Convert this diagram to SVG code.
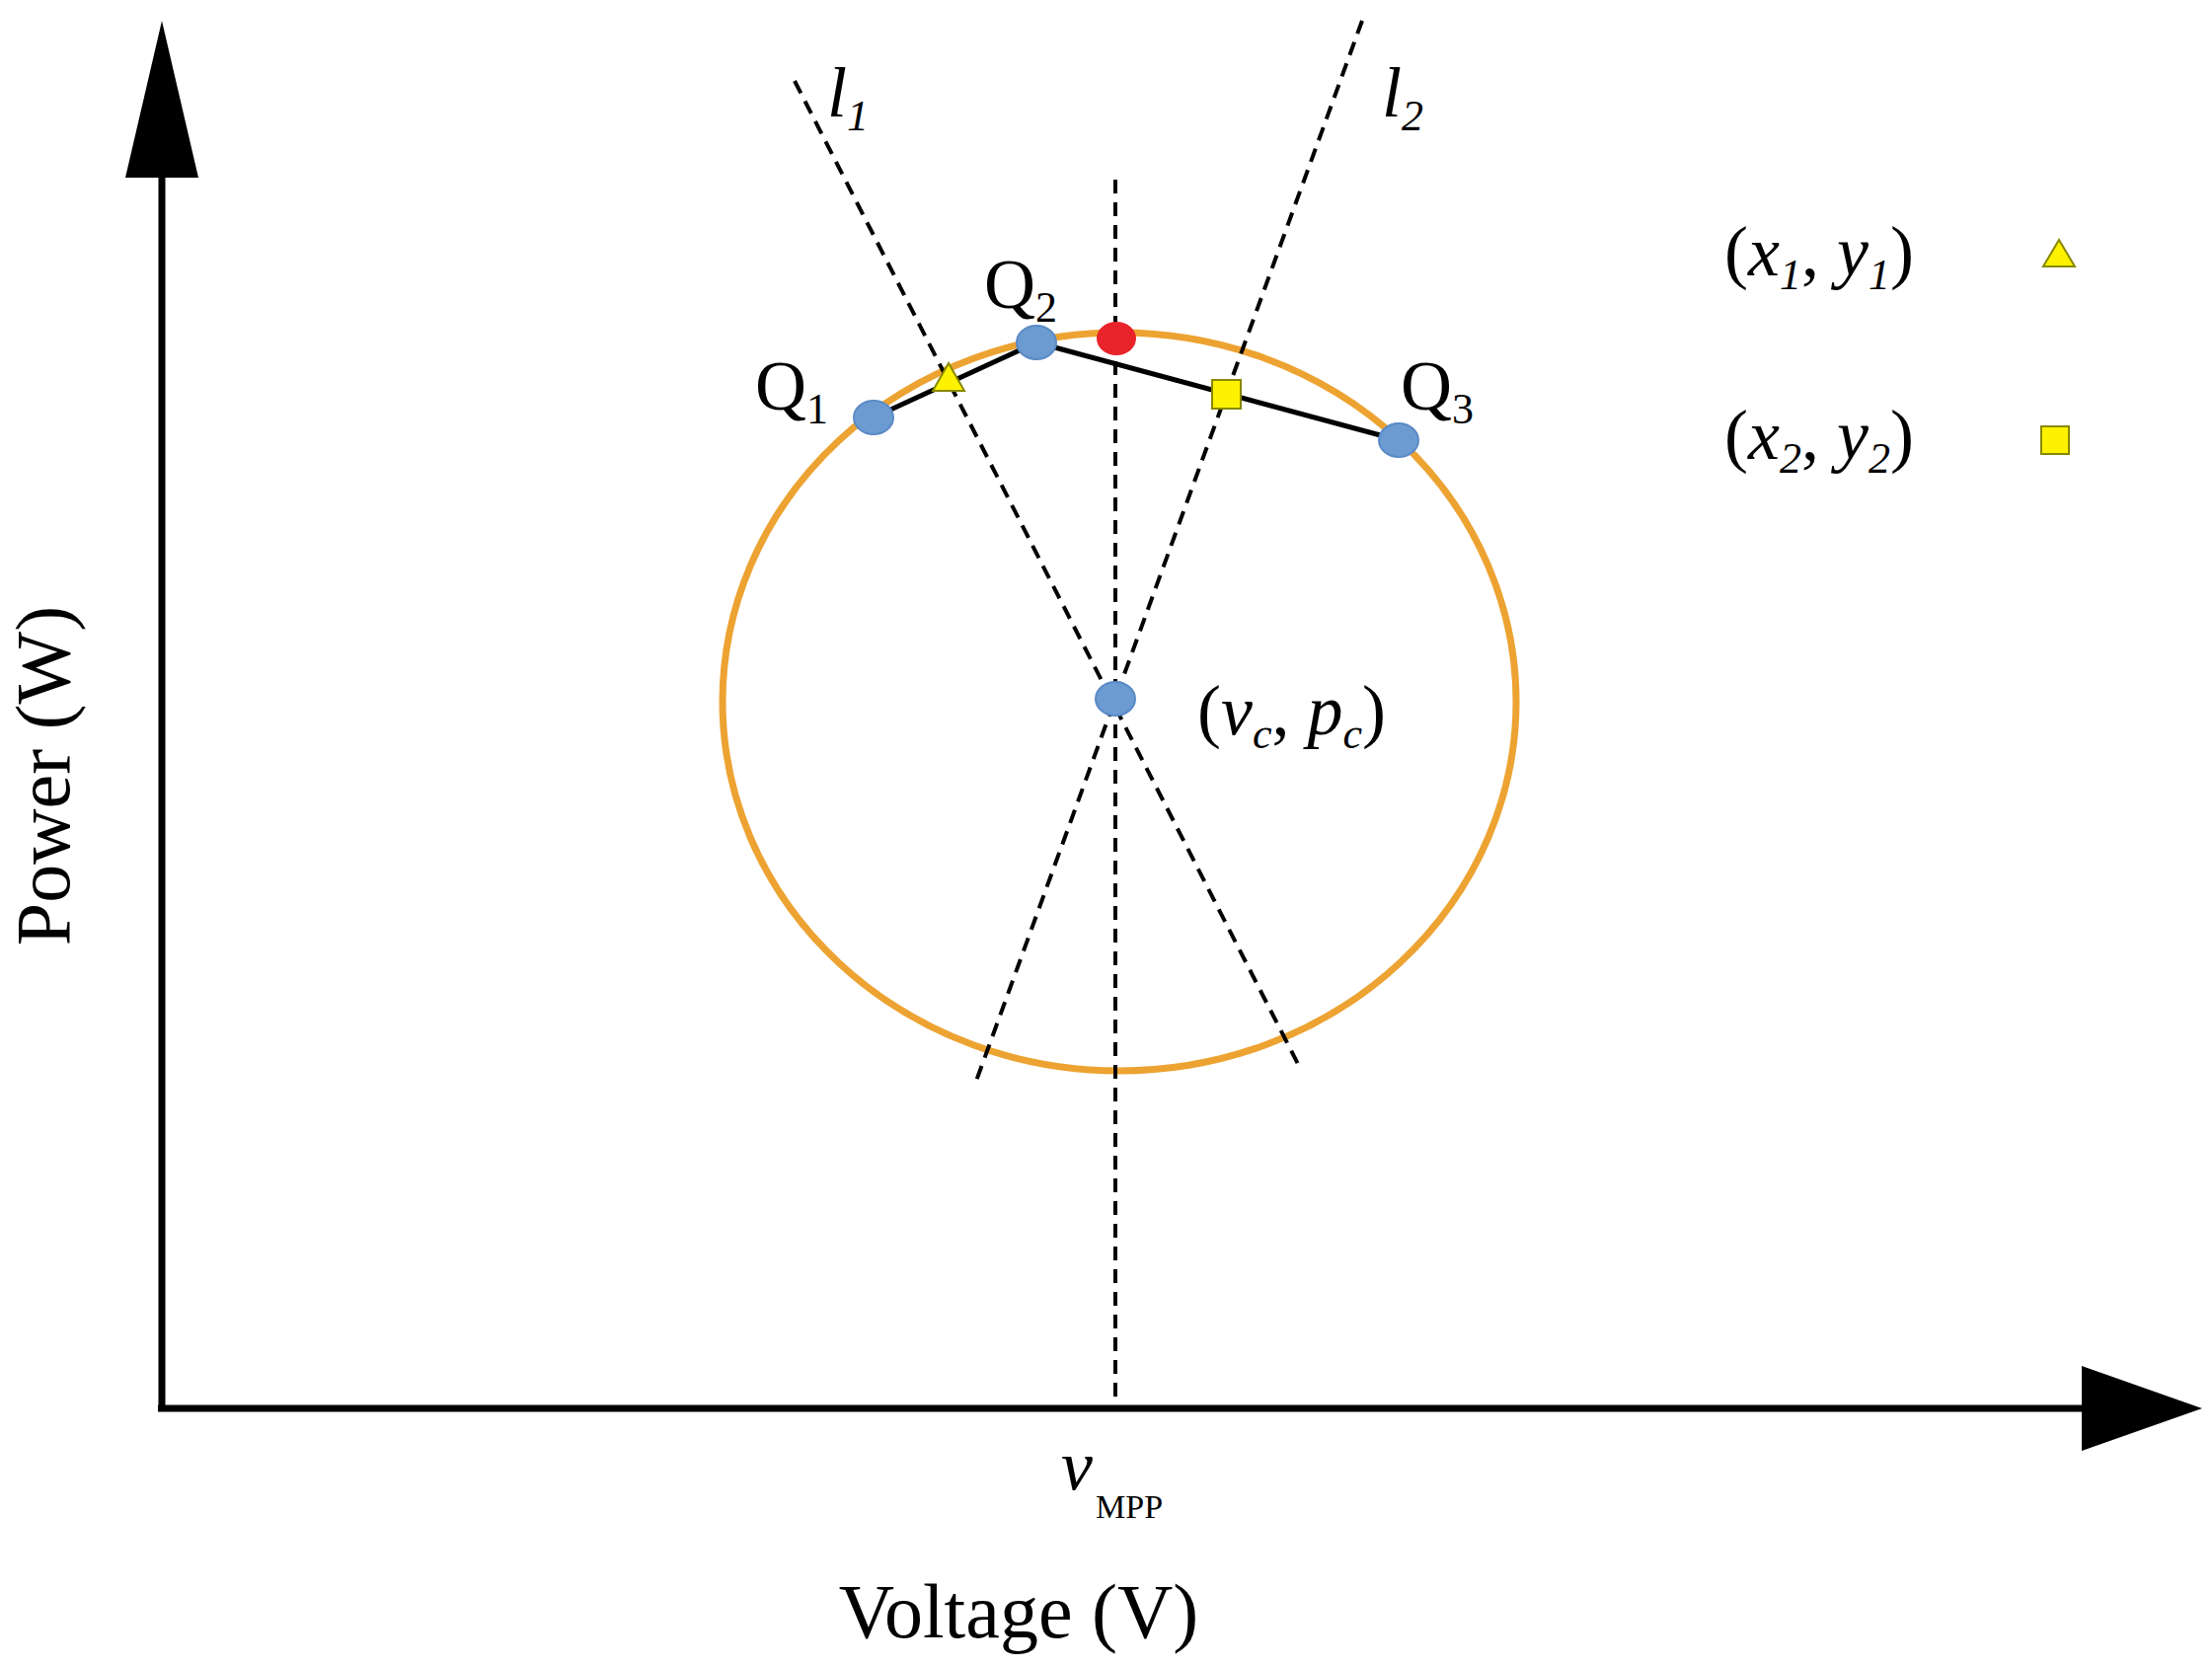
<svg xmlns="http://www.w3.org/2000/svg" width="2241" height="1687" viewBox="0 0 2241 1687">
<style>
text{font-family:"Liberation Serif","Times New Roman",serif;fill:#000}
.lbl{font-size:72px}
.sub{font-size:44px}
.dash{stroke:#000;stroke-width:4;stroke-dasharray:14 9;fill:none}
.pt{fill:#6B9BD1;stroke:#5A8AC6;stroke-width:2}
.yel{fill:#FFF200;stroke:#888800;stroke-width:2}
</style>
<rect width="2241" height="1687" fill="#fff"/>
<g id="axes">
<line x1="164" y1="170" x2="164" y2="1430" stroke="#000" stroke-width="7"/>
<polygon points="164,21 127,180 201,180" fill="#000"/>
<line x1="160" y1="1427" x2="2120" y2="1427" stroke="#000" stroke-width="7"/>
<polygon points="2231,1427 2109,1384 2109,1470" fill="#000"/>
</g>
<g id="connectors">
<ellipse cx="1134" cy="711" rx="402" ry="374" fill="none" stroke="#EDA332" stroke-width="7"/>
<line class="dash" x1="1130" y1="182" x2="1130" y2="1430"/>
<line class="dash" x1="805" y1="82" x2="1316" y2="1080"/>
<line class="dash" x1="1380" y1="21" x2="988" y2="1098"/>
<polyline points="885,423 1050,347 1417,446" fill="none" stroke="#000" stroke-width="5"/>
</g>
<g id="points">
<ellipse class="pt" cx="885" cy="423" rx="20" ry="17"/>
<ellipse class="pt" cx="1050" cy="347" rx="20" ry="17"/>
<ellipse cx="1131" cy="343" rx="20" ry="17" fill="#E8232A"/>
<ellipse class="pt" cx="1417" cy="446" rx="20" ry="17"/>
<ellipse class="pt" cx="1130" cy="708" rx="20" ry="17"/>
<polygon class="yel" points="961,368 945,396 977,396"/>
<rect class="yel" x="1228" y="385" width="29" height="29"/>
</g>
<g id="labels">
<text class="lbl" x="765" y="415">Q<tspan class="sub" dy="14">1</tspan></text>
<text class="lbl" x="997" y="312">Q<tspan class="sub" dy="14">2</tspan></text>
<text class="lbl" x="1419" y="415">Q<tspan class="sub" dy="14">3</tspan></text>
<text class="lbl" x="838" y="118" font-style="italic">l<tspan class="sub" dy="14">1</tspan></text>
<text class="lbl" x="1400" y="118" font-style="italic">l<tspan class="sub" dy="14">2</tspan></text>
<text class="lbl" x="1747" y="279">(<tspan font-style="italic">x</tspan><tspan class="sub" font-style="italic" dy="14">1</tspan><tspan dy="-14">, </tspan><tspan font-style="italic">y</tspan><tspan class="sub" font-style="italic" dy="14">1</tspan><tspan dy="-14">)</tspan></text>
<text class="lbl" x="1747" y="465">(<tspan font-style="italic">x</tspan><tspan class="sub" font-style="italic" dy="14">2</tspan><tspan dy="-14">, </tspan><tspan font-style="italic">y</tspan><tspan class="sub" font-style="italic" dy="14">2</tspan><tspan dy="-14">)</tspan></text>
<polygon class="yel" points="2086,243 2070,270 2102,270"/>
<rect class="yel" x="2068" y="432" width="28" height="28"/>
<text class="lbl" x="1213" y="744">(<tspan font-style="italic">v</tspan><tspan class="sub" font-style="italic" dy="14">c</tspan><tspan dy="-14">, </tspan><tspan font-style="italic">p</tspan><tspan class="sub" font-style="italic" dy="14">c</tspan><tspan dy="-14">)</tspan></text>
<text class="lbl" x="1075" y="1509" font-style="italic">v</text>
<text x="1110" y="1538" font-size="34">MPP</text>
<text x="1032" y="1659" font-size="78" text-anchor="middle">Voltage (V)</text>
<text x="0" y="0" font-size="78" text-anchor="middle" transform="translate(70,786) rotate(-90)">Power (W)</text>
</g>
</svg>
